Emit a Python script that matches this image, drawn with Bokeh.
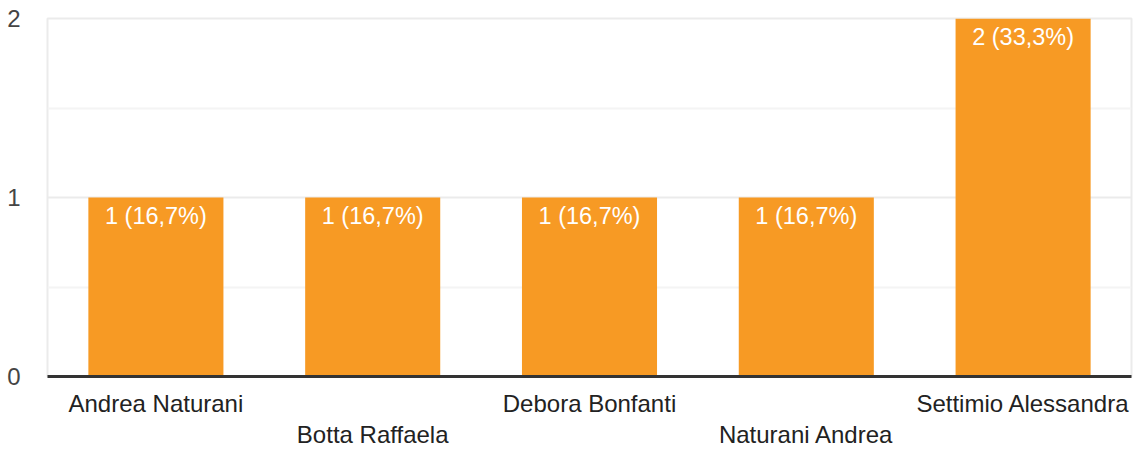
from bokeh.plotting import figure
from bokeh.models import LinearAxis, ColumnDataSource, FixedTicker, Range1d
from bokeh.core.properties import value
from bokeh.embed import file_html
from bokeh.resources import INLINE

names = ["Andrea Naturani", "Botta Raffaela", "Debora Bonfanti", "Naturani Andrea", "Settimio Alessandra"]
counts = [1, 1, 1, 1, 2]
bar_labels = ["1 (16,7%)", "1 (16,7%)", "1 (16,7%)", "1 (16,7%)", "2 (33,3%)"]
y_ticks = [0, 1, 2]
y_minor = [0.5, 1.5]

FONT = "Liberation Sans"
BAR = "#F79A24"

xs = [i + 0.5 for i in range(len(names))]
src = ColumnDataSource(dict(x=xs, counts=counts, labels=bar_labels))

p = figure(x_range=Range1d(0, len(names)), y_range=Range1d(0, max(y_ticks)),
           width=1134, height=450,
           output_backend="svg", toolbar_location=None,
           min_border_left=47, min_border_right=3, min_border_top=18, min_border_bottom=74)
p.outline_line_color = "#ebebeb"
p.outline_line_width = 2
p.background_fill_color = "white"
p.border_fill_color = "white"

p.vbar(x="x", top="counts", width=0.623, source=src, color=BAR, line_color=None)
p.text(x="x", y="counts", text="labels", source=src, text_color="white",
       text_align="center", text_baseline="top", y_offset=5,
       text_font=value(FONT), text_font_size="23.5px")

p.xgrid.grid_line_color = None
p.ygrid.ticker = FixedTicker(ticks=y_ticks, minor_ticks=y_minor)
p.ygrid.grid_line_color = "#ebebeb"
p.ygrid.grid_line_width = 2
p.ygrid.minor_grid_line_color = "#f4f4f4"
p.ygrid.minor_grid_line_width = 2

ya = p.yaxis[0]
ya.ticker = FixedTicker(ticks=y_ticks)
ya.axis_line_color = None
ya.major_tick_line_color = None
ya.minor_tick_line_color = None
ya.major_label_text_font = FONT
ya.major_label_text_font_size = "24px"
ya.major_label_text_color = "#444444"
ya.major_label_standoff = 21


def style_x(ax, idx):
    ax.ticker = FixedTicker(ticks=[xs[i] for i in idx])
    ax.major_label_overrides = {xs[i]: names[i] for i in idx}
    ax.major_tick_line_color = None
    ax.minor_tick_line_color = None
    ax.major_label_text_font = FONT
    ax.major_label_text_font_size = "24px"
    ax.major_label_text_color = "#222222"


xa = p.xaxis[0]
style_x(xa, range(0, len(names), 2))
xa.axis_line_color = "#333333"
xa.axis_line_width = 3
xa.major_label_standoff = 7

xb = LinearAxis()
style_x(xb, range(1, len(names), 2))
xb.axis_line_color = None
xb.major_label_standoff = -5
p.add_layout(xb, "below")

open("out.html", "w").write(file_html(p, INLINE))
